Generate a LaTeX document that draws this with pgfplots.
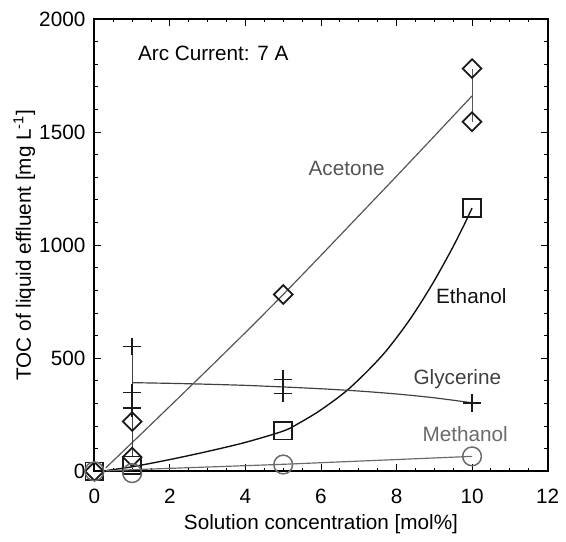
\documentclass[border=0pt]{standalone}
\usepackage{fontspec}
\setmainfont{Liberation Sans}
\usepackage{pgfplots}
\pgfplotsset{compat=1.18}
\definecolor{acecol}{HTML}{555555}
\definecolor{glycol}{HTML}{404040}
\definecolor{metcol}{HTML}{6A6A6A}
\definecolor{ethcol}{HTML}{111111}
\definecolor{markcol}{HTML}{1A1A1A}
\begin{document}
\fontsize{21}{25}\selectfont
\begin{tikzpicture}
\begin{axis}[
  width=459.3pt, height=458.4pt, scale only axis,
  xmin=0, xmax=12, ymin=0, ymax=2000,
  xtick={0,2,...,12}, ytick={0,500,...,2000},
  minor x tick num=3, minor y tick num=4,
  tick align=inside,
  major tick length=7pt, minor tick length=3.5pt,
  axis line style={line width=1.9pt},
  every tick/.style={black, line width=1pt},
  xlabel={Solution concentration [mol\%]},
  ylabel={TOC of liquid effluent [mg L\textsuperscript{-1}]},
  /pgf/number format/assume math mode=true,
  /pgf/number format/1000 sep={},
  tick label style={font=\fontsize{21}{25}\selectfont},
  label style={font=\fontsize{21}{25}\selectfont},
  xticklabel style={yshift=-11pt},
  yticklabel style={xshift=-2pt},
  xlabel style={at={([yshift=-54pt]axis description cs:0.5,0)}, anchor=center},
  ylabel style={at={([xshift=-71pt]axis description cs:0,0.5)}, anchor=center},
  clip=false,
]
% fitted lines
\addplot[acecol, line width=1.2pt, smooth, no marks] coordinates {(0.3,15)(1,127)(2,288)(3,450)(4,614)(5,782)(6,955)(7,1130)(8,1305)(9,1482)(10,1660)};
\addplot[ethcol, line width=1.4pt, smooth, no marks] coordinates {(0.3,3)(1,20)(2,52)(3,88)(4,128)(5,178)(5.44,215)(6,272)(6.74,365)(7.61,510)(8.31,661)(8.92,820)(9.44,975)(9.79,1090)(10,1164)};
\addplot[glycol, line width=1.2pt, smooth, no marks] coordinates {(1,392)(2,389)(3,385)(4,380)(5,373)(6,365)(7,355)(8,342)(9,325)(10,303)};
\addplot[metcol, line width=1.2pt, smooth, no marks] coordinates {(0.3,2)(1,7)(2,13)(3,19)(4,25)(5,31)(6,38)(7,45)(8,52)(9,59)(10,66)};
% vertical range lines
\addplot[acecol, line width=1pt, no marks] coordinates {(10,1546)(10,1781)};
\addplot[glycol, line width=1pt, no marks] coordinates {(1,65)(1,552)};
% marks
\addplot[only marks, mark=square, mark size=6.7pt, mark options={rotate=45, draw=markcol, line width=1.8pt}] coordinates {(0,0)(1,220)(1,63)(5,782)(10,1781)(10,1546)};
\addplot[only marks, mark=square, mark size=9pt, mark options={draw=markcol, line width=1.8pt}] coordinates {(0,0)(1,26)(5,180)(10,1164)};
\addplot[only marks, mark=+, mark size=9pt, mark options={draw=markcol, line width=1.5pt}] coordinates {(1,552)(1,348)(1,280)(5,407)(5,345)(10,303)};
\addplot[only marks, mark=o, mark size=9.5pt, mark options={draw=metcol, line width=1.5pt}] coordinates {(0,0)(1,-8)(5,30)(10,66)};
% labels
\node[anchor=west, inner sep=0pt, text=black] at (axis cs:1.15,1849) {Arc Current: 7 A};
\node[inner sep=0pt, text=acecol] at (axis cs:6.68,1338) {Acetone};
\node[inner sep=0pt, text=ethcol] at (axis cs:9.98,775) {Ethanol};
\node[inner sep=0pt, text=glycol] at (axis cs:9.61,406) {Glycerine};
\node[inner sep=0pt, text=metcol] at (axis cs:9.82,166) {Methanol};
\end{axis}
\path (current axis.south west) ++(-95.7pt,-60.3pt) coordinate (bbA);
\path (current axis.north east) ++(11pt,19.3pt) coordinate (bbB);
\path (bbA) rectangle (bbB);
\end{tikzpicture}
\end{document}
